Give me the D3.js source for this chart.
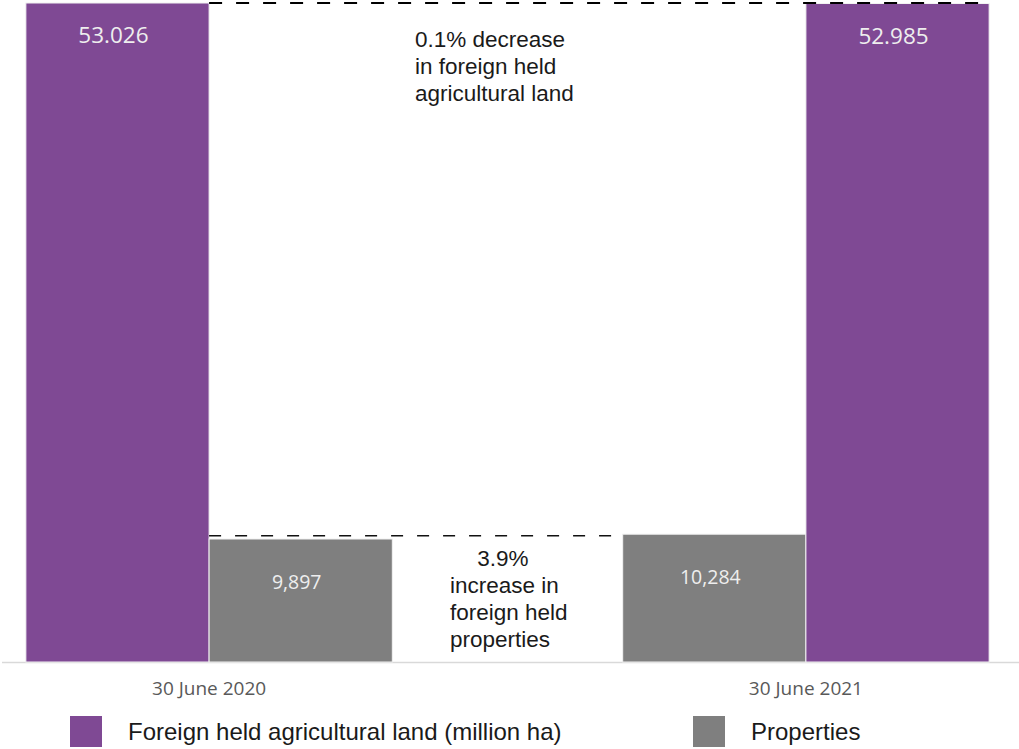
<!DOCTYPE html>
<html>
<head>
<meta charset="utf-8">
<script src="https://cdn.jsdelivr.net/npm/d3@7"></script>
<style>
  body { margin: 0; background: #fff; }
  svg { display: block; }
</style>
</head>
<body>
<svg id="svg" width="1019" height="749"></svg>
<script>
var categories = ['30 June 2020', '30 June 2021'];
var landValues = [53.026, 52.985];        // million ha
var propertyValues = [9897, 10284];       // number of properties
var landLabels = ['53.026', '52.985'];
var propertyLabels = ['9,897', '10,284'];
var legendLabels = ['Foreign held agricultural land (million ha)', 'Properties'];
var noteTop = ['0.1% decrease', 'in foreign held', 'agricultural land'];
var noteBottom = ['3.9%', 'increase in', 'foreign held', 'properties'];

var purple = '#7f4994', grey = '#7f7f7f';

var svg = d3.select('#svg');
var baseY = 662, topY = 3;

var xScale = d3.scaleBand()
    .domain(categories)
    .range([2, 1013])
    .paddingInner(0.386)
    .paddingOuter(0.04);

// land on the left of the first group, mirrored in the second
var bars = [];
categories.forEach(function (c, i) {
    var order = i === 0 ? ['land', 'props'] : ['props', 'land'];
    order.forEach(function (s, j) {
        bars.push({cat: c, series: s, slot: j, i: i});
    });
});

var xInner = d3.scaleBand()
    .domain([0, 1])
    .range([0, xScale.bandwidth()]);

var yLand = d3.scaleLinear()
    .domain([0, d3.max(landValues)])
    .range([baseY, topY]);
// properties in the same units, thousands
var yProps = d3.scaleLinear()
    .domain([0, d3.max(landValues) * 1000])
    .range([baseY, topY]);

function val(d) { return d.series === 'land' ? landValues[d.i] : propertyValues[d.i]; }
function yOf(d) { return d.series === 'land' ? yLand(val(d)) : yProps(val(d)); }

// baseline axis
var xAxis = svg.append('g')
    .attr('transform', 'translate(0,' + baseY + ')')
    .call(d3.axisBottom(xScale).tickSize(0).tickPadding(20));
xAxis.select('.domain').attr('stroke', '#d9d9d9').attr('stroke-width', 1.5)
    .attr('d', 'M2,0.5H1019');
xAxis.selectAll('text')
    .attr('font-family', 'Open Sans, sans-serif')
    .attr('font-size', 19)
    .attr('fill', '#595959');

// bars
var rectGrp = svg.append('g');
rectGrp.selectAll('rect').data(bars).enter()
    .append('rect')
    .attr('x', function (d) { return xScale(d.cat) + xInner(d.slot); })
    .attr('width', xInner.bandwidth())
    .attr('y', yOf)
    .attr('height', function (d) { return baseY - yOf(d); })
    .attr('fill', function (d) { return d.series === 'land' ? purple : grey; })
    .attr('stroke', '#f2f2f2')
    .attr('stroke-width', 1);

// value labels
rectGrp.selectAll('text').data(bars).enter()
    .append('text')
    .attr('x', function (d) { return xScale(d.cat) + xInner(d.slot) + xInner.bandwidth() / 2 - 4; })
    .attr('y', function (d) { return yOf(d) + (d.series === 'land' ? 40 : 50); })
    .attr('text-anchor', 'middle')
    .attr('font-family', 'Open Sans, sans-serif')
    .attr('font-size', function (d) { return d.series === 'land' ? 22.5 : 19.5; })
    .attr('fill', '#eeeeee')
    .text(function (d) { return d.series === 'land' ? landLabels[d.i] : propertyLabels[d.i]; });

// dashed comparison lines
var b0 = xScale(categories[0]), b1 = xScale(categories[1]);
svg.append('line')
    .attr('x1', b0 + xInner(0) + xInner.bandwidth())
    .attr('x2', b1 + xInner(1) + xInner.bandwidth())
    .attr('y1', yLand(landValues[0])).attr('y2', yLand(landValues[0]))
    .attr('stroke', '#000').attr('stroke-width', 2)
    .attr('stroke-dasharray', '13,14');
svg.append('line')
    .attr('x1', b0 + xInner(1))
    .attr('x2', b1 + xInner(0))
    .attr('y1', yProps(propertyValues[1]) + 1.5).attr('y2', yProps(propertyValues[1]) + 1.5)
    .attr('stroke', '#111').attr('stroke-width', 1.5)
    .attr('stroke-dasharray', '12,14');

// annotations
var noteFont = 'Liberation Sans, Arial, sans-serif';
svg.append('g').selectAll('text').data(noteTop).enter()
    .append('text')
    .attr('x', 415)
    .attr('y', function (d, i) { return 47 + i * 27; })
    .attr('font-family', noteFont).attr('font-size', 22.5).attr('fill', '#1a1a1a')
    .text(function (d) { return d; });
svg.append('g').selectAll('text').data(noteBottom).enter()
    .append('text')
    .attr('x', function (d, i) { return i === 0 ? 503 : 450; })
    .attr('text-anchor', function (d, i) { return i === 0 ? 'middle' : 'start'; })
    .attr('y', function (d, i) { return 566 + i * 27; })
    .attr('font-family', noteFont).attr('font-size', 22.5).attr('fill', '#1a1a1a')
    .text(function (d) { return d; });

// legend
var legendX = [70, 693];
var legend = svg.append('g').selectAll('g').data(legendLabels).enter()
    .append('g')
    .attr('transform', function (d, i) { return 'translate(' + legendX[i] + ',716)'; });
legend.append('rect')
    .attr('width', 32).attr('height', 31)
    .attr('fill', function (d, i) { return i === 0 ? purple : grey; });
legend.append('text')
    .attr('x', 58).attr('y', 24)
    .attr('font-family', noteFont).attr('font-size', 24).attr('fill', '#1a1a1a')
    .text(function (d) { return d; });
</script>
</body>
</html>
